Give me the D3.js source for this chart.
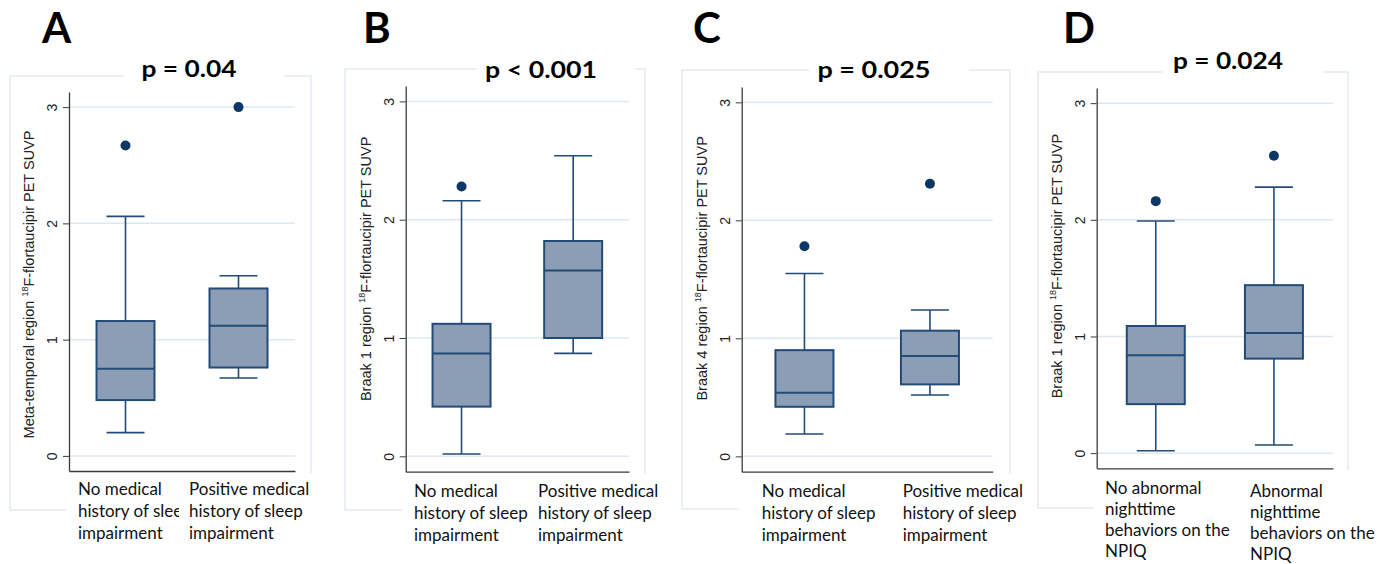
<!DOCTYPE html>
<html>
<head>
<meta charset="utf-8">
<script src="https://cdn.jsdelivr.net/npm/d3@7"></script>
<style>
  body { margin: 0; background: #fff; }
  svg { display: block; }
</style>
</head>
<body>
<svg width="1386" height="564"></svg>
<script>
// Данные диаграмм
const panelLetters = ["A", "B", "C", "D"];
const pTexts = ["p = 0.04", "p < 0.001", "p = 0.025", "p = 0.024"];
const yRegions = ["Meta-temporal region", "Braak 1 region", "Braak 4 region", "Braak 1 region"];
const sleepLabels = [["No medical", "history of sleep", "impairment"],
                     ["Positive medical", "history of sleep", "impairment"]];
const npiqLabels = [["No abnormal", "nighttime", "behaviors on the", "NPIQ"],
                    ["Abnormal", "nighttime", "behaviors on the", "NPIQ"]];
const groupLabels = [sleepLabels, sleepLabels, sleepLabels, npiqLabels];
const yTicks = [0, 1, 2, 3];
const yDomain = [-0.13, 3.13];

// статистики ящиков: [группа 1, группа 2] для каждой панели
const whiskerLow  = [[0.20, 0.67], [0.02, 0.87], [0.19, 0.52], [0.02, 0.07]];
const quart1      = [[0.48, 0.76], [0.42, 1.00], [0.42, 0.61], [0.42, 0.81]];
const medians     = [[0.75, 1.12], [0.87, 1.57], [0.54, 0.85], [0.84, 1.03]];
const quart3      = [[1.16, 1.44], [1.12, 1.82], [0.90, 1.065], [1.09, 1.44]];
const whiskerHigh = [[2.06, 1.55], [2.16, 2.54], [1.55, 1.24], [1.99, 2.28]];
const outliers    = [[2.67, 3.00], [2.28, null], [1.78, 2.31], [2.16, 2.55]];

// размещение панелей на рисунке
const layout = [
  {frame: [10, 76, 311, 510],    plot: [69, 92, 295, 471],        letterX: 42,   titleX: 189,  titleY: 77, titleW: 95,  labelX: [78, 189],      labelY: [495, 495],     lineH: 22, yShift: 3},
  {frame: [345, 69, 645, 510],   plot: [405.7, 86, 629, 471.7],   letterX: 363,  titleX: 541,  titleY: 78, titleW: 112, labelX: [414, 538],     labelY: [496.5, 496.5], lineH: 22, yShift: -10},
  {frame: [682, 70, 1010, 509],  plot: [741.7, 87, 992.7, 471.7], letterX: 693,  titleX: 874,  titleY: 78, titleW: 113, labelX: [761.7, 902.7], labelY: [496.5, 496.5], lineH: 22, yShift: -11},
  {frame: [1038, 72, 1348, 508], plot: [1096.7, 88, 1333, 468.3], letterX: 1063, titleX: 1228, titleY: 69, titleW: 110, labelX: [1105, 1250],   labelY: [494, 496.5],   lineH: 21, yShift: -12}
];

const colors = {
  frame: "#e3eaf0",
  grid: "#dfe8f0",
  axis: "#3a3a3a",
  boxFill: "#8b9eb5",
  boxStroke: "#234b78",
  dot: "#0d3766"
};

const svg = d3.select("svg");

function drawPanel(i) {
  const L = layout[i];
  const [fl, ft, fr, fb] = L.frame;
  const [pl, pt, pr, pb] = L.plot;
  const g = svg.append("g");

  // рамка панели
  g.append("rect")
    .attr("x", fl).attr("y", ft)
    .attr("width", fr - fl).attr("height", fb - ft)
    .style("fill", "none")
    .style("stroke", colors.frame)
    .style("stroke-width", 1.5);

  // шкалы
  const scaleX = d3.scaleBand()
    .domain([0, 1])
    .range([pl, pr]);
  const scaleY = d3.scaleLinear()
    .domain(yDomain)
    .range([pb, pt]);

  // линии сетки
  g.selectAll(".grid")
    .data(yTicks)
    .enter()
    .append("line")
    .attr("x1", pl).attr("x2", pr)
    .attr("y1", d => scaleY(d)).attr("y2", d => scaleY(d))
    .style("stroke", colors.grid)
    .style("stroke-width", 1.5);

  // ось OY
  const axY = g.append("g")
    .attr("transform", `translate(${pl}, 0)`)
    .call(d3.axisLeft(scaleY).tickValues(yTicks).tickFormat(d3.format("d"))
            .tickSize(6).tickSizeOuter(0));
  axY.select(".domain").style("stroke", colors.axis).style("stroke-width", 1.3);
  axY.selectAll(".tick line").style("stroke", colors.axis).style("stroke-width", 1);
  axY.selectAll(".tick text")
    .attr("transform", "rotate(-90)")
    .attr("x", 0).attr("y", -12).attr("dy", 0)
    .style("text-anchor", "middle")
    .style("font-family", "'Liberation Sans', Arial, sans-serif")
    .style("font-size", "14px")
    .style("fill", "#222");

  // ось OX (без делений)
  const axX = g.append("g")
    .attr("transform", `translate(0, ${pb})`)
    .call(d3.axisBottom(scaleX).tickValues([]).tickSizeOuter(0));
  axX.select(".domain").style("stroke", colors.axis).style("stroke-width", 1.3);

  // подпись оси OY
  const yt = g.append("text")
    .attr("transform", `translate(${pl - 35}, ${(pt + pb) / 2 + L.yShift}) rotate(-90)`)
    .style("text-anchor", "middle")
    .style("font-family", "'Liberation Sans', Arial, sans-serif")
    .style("font-size", "14.5px")
    .style("fill", "#222");
  yt.append("tspan").text(yRegions[i] + " ");
  yt.append("tspan").text("18").style("font-size", "9px").attr("dy", -6);
  yt.append("tspan").text("F-flortaucipir PET SUVP").attr("dy", 6);

  // ящики с усами
  const boxW = 58, capW = 38;
  const idx = [0, 1];
  const cx = d => scaleX(d) + scaleX.bandwidth() / 2;

  g.selectAll(".whisker")
    .data(idx)
    .enter()
    .append("path")
    .attr("d", d => `M${cx(d)},${scaleY(quart3[i][d])}V${scaleY(whiskerHigh[i][d])}` +
                    `M${cx(d) - capW / 2},${scaleY(whiskerHigh[i][d])}H${cx(d) + capW / 2}` +
                    `M${cx(d)},${scaleY(quart1[i][d])}V${scaleY(whiskerLow[i][d])}` +
                    `M${cx(d) - capW / 2},${scaleY(whiskerLow[i][d])}H${cx(d) + capW / 2}`)
    .style("fill", "none")
    .style("stroke", colors.boxStroke)
    .style("stroke-width", 1.6);

  g.selectAll(".box")
    .data(idx)
    .enter()
    .append("rect")
    .attr("x", d => cx(d) - boxW / 2)
    .attr("y", d => scaleY(quart3[i][d]))
    .attr("width", boxW)
    .attr("height", d => scaleY(quart1[i][d]) - scaleY(quart3[i][d]))
    .style("fill", colors.boxFill)
    .style("stroke", colors.boxStroke)
    .style("stroke-width", 2);

  g.selectAll(".median")
    .data(idx)
    .enter()
    .append("line")
    .attr("x1", d => cx(d) - boxW / 2).attr("x2", d => cx(d) + boxW / 2)
    .attr("y1", d => scaleY(medians[i][d])).attr("y2", d => scaleY(medians[i][d]))
    .style("stroke", colors.boxStroke)
    .style("stroke-width", 2);

  g.selectAll(".dot")
    .data(idx.filter(d => outliers[i][d] !== null))
    .enter()
    .append("circle")
    .attr("cx", cx)
    .attr("cy", d => scaleY(outliers[i][d]))
    .attr("r", 5)
    .style("fill", colors.dot);

  // белая подложка под подписями категорий
  g.append("rect")
    .attr("x", pl - 3).attr("y", pb + 2)
    .attr("width", fr + 3 - (pl - 3)).attr("height", 564 - pb)
    .style("fill", "#fff");

  // подписи категорий
  idx.forEach(k => {
    if (k === 1) {
      g.append("rect")
        .attr("x", L.labelX[k] - 10).attr("y", pb + 2)
        .attr("width", fr + 3 - (L.labelX[k] - 10)).attr("height", 564 - pb)
        .style("fill", "#fff");
    }
    const t = g.append("text")
      .attr("x", L.labelX[k])
      .attr("y", L.labelY[k])
      .style("font-family", "Lato, 'Open Sans', sans-serif")
      .style("font-size", "17px")
      .style("fill", "#111");
    groupLabels[i][k].forEach((line, j) => {
      t.append("tspan")
        .attr("x", L.labelX[k])
        .attr("dy", j === 0 ? 0 : L.lineH)
        .text(line);
    });
  });

  // заголовок с p-значением
  g.append("rect")
    .attr("x", L.titleX - 65).attr("y", ft - 5)
    .attr("width", 160).attr("height", 10)
    .style("fill", "#fff");
  g.append("text")
    .attr("x", L.titleX - L.titleW / 2)
    .attr("y", L.titleY)
    .attr("textLength", L.titleW)
    .attr("lengthAdjust", "spacingAndGlyphs")
    .style("font-family", "Lato, 'Open Sans', sans-serif")
    .style("font-weight", "bold")
    .style("font-size", "23px")
    .style("fill", "#000")
    .text(pTexts[i]);

  // буква панели
  g.append("text")
    .attr("x", L.letterX)
    .attr("y", 42.5)
    .style("font-family", "Lato, 'Open Sans', sans-serif")
    .style("font-weight", "bold")
    .style("font-size", "42px")
    .style("fill", "#000")
    .text(panelLetters[i]);
}

panelLetters.forEach((d, i) => drawPanel(i));
</script>
</body>
</html>
